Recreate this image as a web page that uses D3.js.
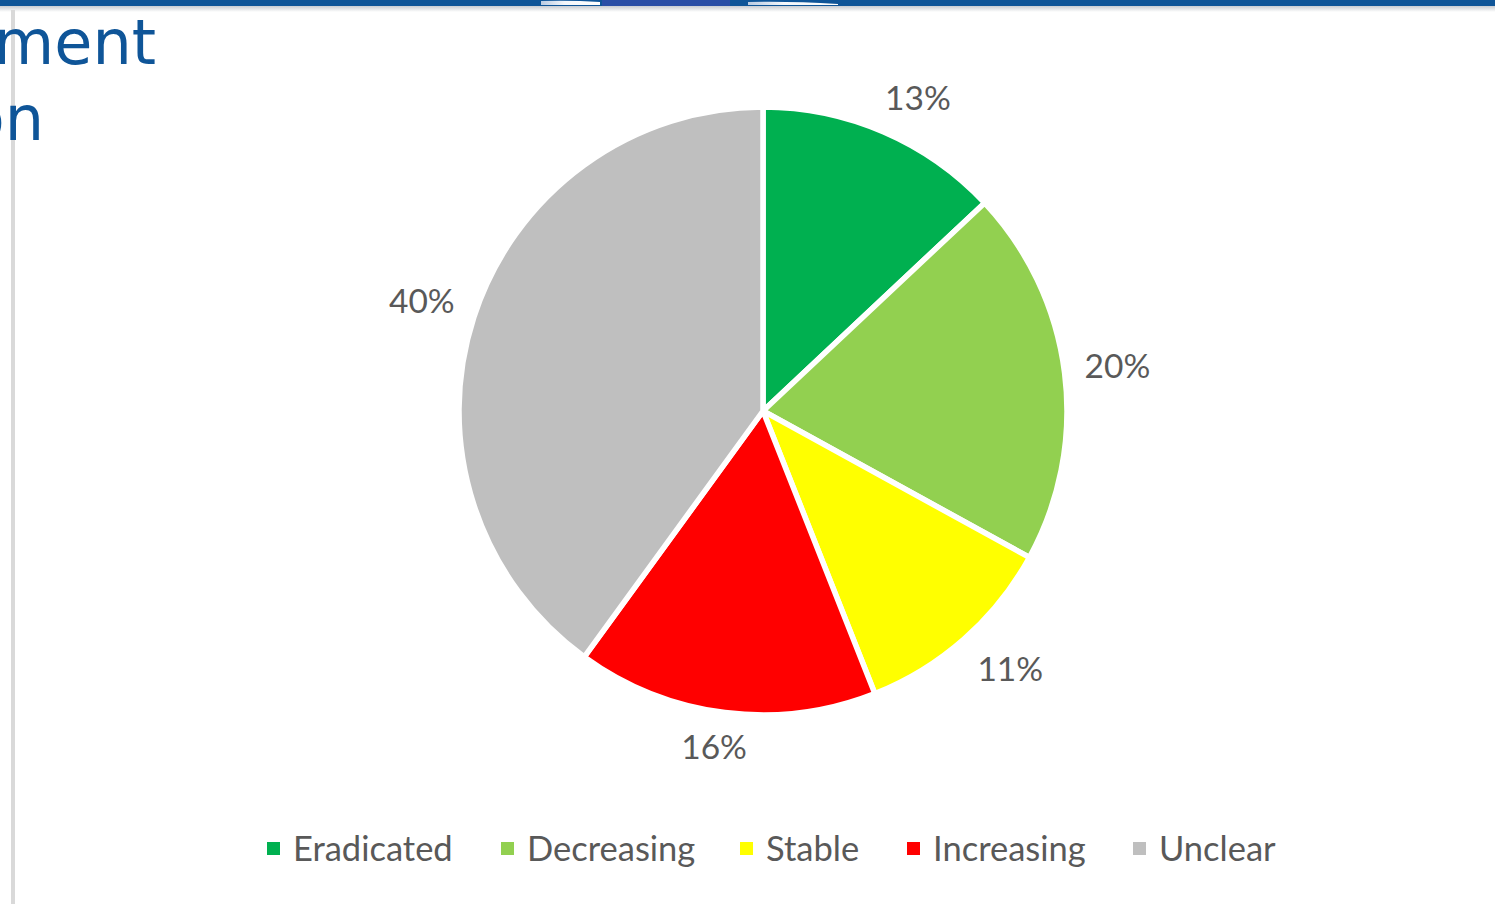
<!DOCTYPE html>
<html>
<head>
<meta charset="utf-8">
<script src="https://cdn.jsdelivr.net/npm/d3@7"></script>
<style>
  html, body { margin: 0; padding: 0; background: #fff; overflow: hidden; }
  svg { display: block; }
</style>
</head>
<body>
<svg id="chart" width="1495" height="904"></svg>
<script>
// Status of the tracked cases, share of total (%)
const categories = ["Eradicated", "Decreasing", "Stable", "Increasing", "Unclear"];
const shares = [13, 20, 11, 16, 40];
const sliceColors = ["#00b050", "#92d050", "#ffff00", "#ff0000", "#bfbfbf"];
const titleLines = ["ment", "on"];

const svg = d3.select("#chart");
const W = 1495, H = 904;

// --- slide frame: header band and left rule ---
const defs = svg.append("defs");
const shadow = defs.append("linearGradient").attr("id", "shade").attr("x1", 0).attr("x2", 0).attr("y1", 0).attr("y2", 1);
shadow.append("stop").attr("offset", 0).attr("stop-color", "#c8ccd2");
shadow.append("stop").attr("offset", 1).attr("stop-color", "#ffffff");
const sheen = defs.append("linearGradient").attr("id", "sheen").attr("x1", 0).attr("x2", 1).attr("y1", 0).attr("y2", 0);
sheen.append("stop").attr("offset", 0).attr("stop-color", "#b9cbe2");
sheen.append("stop").attr("offset", 0.4).attr("stop-color", "#f4f7fb");
sheen.append("stop").attr("offset", 1).attr("stop-color", "#ffffff");

svg.append("rect").attr("x", 0).attr("y", 0).attr("width", W).attr("height", 6).attr("fill", "#0f5598");
svg.append("rect").attr("x", 0).attr("y", 6).attr("width", W).attr("height", 6).attr("fill", "url(#shade)");
svg.append("path").attr("d", "M541,5 L541,1 Q570,0 600,2 L600,5 Z").attr("fill", "url(#sheen)");
svg.append("rect").attr("x", 602).attr("y", 0).attr("width", 128).attr("height", 6).attr("fill", "#2a4ea6");
svg.append("path").attr("d", "M748,5 L748,2 Q790,1 838,4 L838,5 Z").attr("fill", "url(#sheen)");
svg.append("rect").attr("x", 11).attr("y", 10).attr("width", 4).attr("height", H - 10).attr("fill", "#d9d9d9");

// --- heading fragments ---
const title = svg.append("g").attr("font-family", "DejaVu Sans, Verdana, sans-serif")
  .attr("font-size", 62).attr("fill", "#0f5598");
title.append("text").attr("x", 156).attr("y", 64).attr("text-anchor", "end").text(titleLines[0]);
title.append("text").attr("x", 44).attr("y", 140).attr("text-anchor", "end").text(titleLines[1]);

// --- pie ---
const cx = 763, cy = 411, R = 304;
const data = categories.map((c, i) => ({ cat: c, value: shares[i] }));
const pie = d3.pie().value(d => d.value).sort(null);
const arc = d3.arc().innerRadius(0).outerRadius(R);
const color = d3.scaleOrdinal().domain(categories).range(sliceColors);
const arcs = pie(data);

const g = svg.append("g").attr("transform", `translate(${cx},${cy})`);
g.selectAll("path").data(arcs).join("path")
  .attr("d", arc)
  .attr("fill", d => color(d.data.cat))
  .attr("stroke", "#ffffff")
  .attr("stroke-width", 5.5)
  .attr("stroke-linejoin", "round");

// percentage labels sit outside the rim: the label box is pushed
// outward along the slice's mid-angle so its inner corner clears the arc
const gap = 20, halfW = 33, halfH = 15;
const clamp = v => Math.max(-1, Math.min(1, v));
function labelPos(d) {
  const a = (d.startAngle + d.endAngle) / 2;
  const s = Math.sin(a), c = -Math.cos(a);
  return [(R + gap) * s + halfW * clamp(2 * s), (R + gap) * c + halfH * clamp(2 * c)];
}
g.selectAll("text.pct").data(arcs).join("text")
  .attr("class", "pct")
  .attr("transform", d => `translate(${labelPos(d)})`)
  .attr("text-anchor", "middle")
  .attr("dy", "0.35em")
  .attr("font-family", "Lato, 'Open Sans', sans-serif")
  .attr("font-size", 33.5)
  .attr("fill", "#595959")
  .text(d => d.data.value + "%");

// --- legend ---
const legendX = [267, 501, 740, 907, 1133];
const legend = svg.append("g").attr("font-family", "Lato, 'Open Sans', sans-serif")
  .attr("font-size", 34.5).attr("fill", "#595959");
const items = legend.selectAll("g").data(categories).join("g")
  .attr("transform", (d, i) => `translate(${legendX[i]},0)`);
items.append("rect").attr("x", 0).attr("y", 842).attr("width", 13).attr("height", 13)
  .attr("fill", d => color(d));
items.append("text").attr("x", 26).attr("y", 861).text(d => d);
</script>
</body>
</html>
